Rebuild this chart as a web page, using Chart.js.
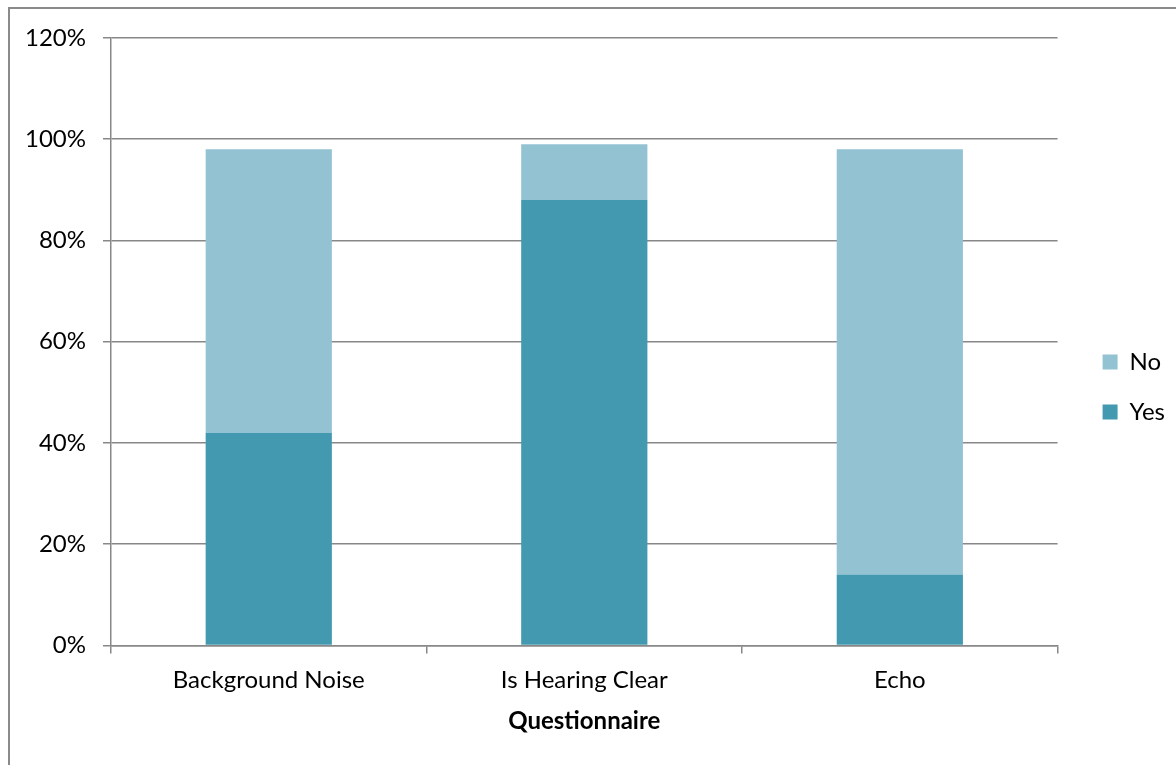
<!DOCTYPE html>
<html>
<head>
<meta charset="utf-8">
<script src="https://cdn.jsdelivr.net/npm/chart.js@4.4.1/dist/chart.umd.min.js"></script>
<style>
  html, body { margin: 0; padding: 0; background: #ffffff; overflow: hidden; }
  #wrap { position: absolute; left: 0; top: 0; width: 1176px; height: 765px; }
  #frame { position: absolute; left: 8px; top: 7px; width: 1300px; height: 900px;
           border: 2px solid #8a8a8a; box-sizing: border-box; pointer-events: none; }
</style>
</head>
<body>
<div id="wrap"><canvas id="c"></canvas></div>
<div id="frame"></div>
<script>
const categories = ['Background Noise', 'Is Hearing Clear', 'Echo'];
const yesValues = [42, 88, 14];
const noValues = [56, 11, 84];
const yTicks = [0, 20, 40, 60, 80, 100, 120];

const FONT = 'Lato, "Open Sans", sans-serif';
const GRID = '#888888';

// Extra space between the plot area and the legend, without widening the row spacing.
const LEGEND_GAP = 19;
const legendGap = {
  id: 'legendGap',
  beforeInit(chart) {
    const legend = chart.legend;
    if (!legend) return;
    const fit = legend.fit;
    legend.fit = function () {
      fit.call(this);
      this.width += LEGEND_GAP;
    };
  },
  afterLayout(chart) {
    if (chart.legend) chart.legend.left += LEGEND_GAP;
  }
};

new Chart(document.getElementById('c'), {
  type: 'bar',
  data: {
    labels: categories,
    datasets: [
      { label: 'Yes', data: yesValues, backgroundColor: '#4399B0', borderWidth: 0 },
      { label: 'No', data: noValues, backgroundColor: '#93C3D3', borderWidth: 0 }
    ]
  },
  plugins: [legendGap],
  options: {
    responsive: true,
    maintainAspectRatio: false,
    animation: false,
    events: [],
    layout: { padding: { left: 8, top: 38, right: 1, bottom: 29 } },
    datasets: { bar: { categoryPercentage: 1.0, barPercentage: 0.4 } },
    plugins: {
      tooltip: { enabled: false },
      legend: {
        position: 'right',
        reverse: true,
        labels: {
          color: '#000000',
          font: { family: FONT, size: 24 },
          boxWidth: 15,
          boxHeight: 15,
          padding: 26
        }
      }
    },
    scales: {
      x: {
        stacked: true,
        grid: { display: true, drawOnChartArea: false, drawTicks: true, tickLength: 8,
                color: GRID, lineWidth: 1.5, offset: true },
        border: { display: true, color: GRID, width: 1.5 },
        ticks: { color: '#000000', font: { family: FONT, size: 24 }, padding: 12, maxRotation: 0 },
        title: { display: true, text: 'Questionnaire', color: '#000000',
                 font: { family: FONT, size: 24, weight: 'bold' }, padding: { top: 1, bottom: 0 } }
      },
      y: {
        stacked: true,
        min: 0,
        max: 120,
        afterBuildTicks: (axis) => { axis.ticks = yTicks.map(v => ({ value: v })); },
        grid: { color: GRID, lineWidth: 1.5, tickLength: 8, drawTicks: true },
        border: { display: true, color: GRID, width: 1.5 },
        ticks: { color: '#000000', font: { family: FONT, size: 24 }, padding: 17,
                 callback: (v) => v + '%' }
      }
    }
  }
});
</script>
</body>
</html>
